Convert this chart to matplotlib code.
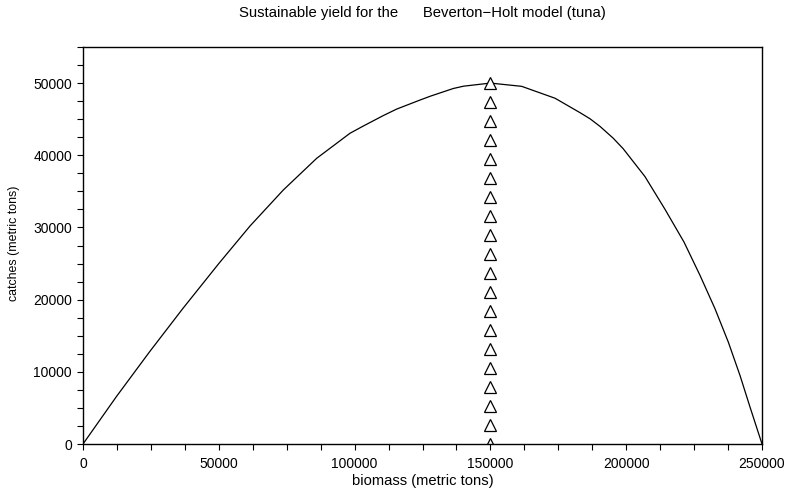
import matplotlib
matplotlib.use("Agg")
import matplotlib.pyplot as plt
from matplotlib.ticker import MultipleLocator

plt.rcParams['font.family'] = ['Liberation Sans', 'DejaVu Sans']

biomass = [0, 12260, 24540, 36820, 50000, 61490, 73750, 86040, 98310, 103200,
           110570, 115500, 124080, 128000, 136340, 140100, 150000, 161500,
           173800, 183000, 186700, 190350, 195250, 198900, 206900, 214300,
           221300, 227200, 232700, 237600, 241900, 245600, 250000]
catches = [0, 6550, 12790, 18800, 25000, 30200, 35190, 39580, 43050, 44050,
           45500, 46400, 47650, 48200, 49250, 49570, 50000, 49550,
           47900, 45900, 45050, 44000, 42350, 40900, 37050, 32500,
           27960, 23340, 18730, 14110, 9490, 5100, 0]

msy_biomass = [150000] * 20
msy_levels = [0, 2632, 5263, 7895, 10526, 13158, 15789, 18421, 21053, 23684,
              26316, 28947, 31579, 34211, 36842, 39474, 42105, 44737, 47368, 50000]

fig = plt.figure(figsize=(7.89, 4.91), dpi=100)
ax = fig.add_axes([0.1052, 0.0957, 0.8606, 0.8086])

ax.plot(biomass, catches, color='black', linewidth=0.9)
ax.plot(msy_biomass, msy_levels, linestyle='none', marker='^', markersize=9.2,
        markerfacecolor='white', markeredgecolor='black', markeredgewidth=0.9)

ax.set_xlim(0, 250000)
ax.set_ylim(0, 55000)
ax.xaxis.set_major_locator(MultipleLocator(50000))
ax.xaxis.set_minor_locator(MultipleLocator(12500))
ax.yaxis.set_major_locator(MultipleLocator(10000))
ax.yaxis.set_minor_locator(MultipleLocator(2500))
ax.tick_params(axis='both', which='major', direction='out', length=4.5, width=0.8,
               labelsize=10, color='black')
ax.tick_params(axis='x', which='major', pad=5)
ax.tick_params(axis='both', which='minor', direction='out', length=4, width=0.8,
               color='black')
for s in ax.spines.values():
    s.set_linewidth(1.0)

ax.set_xlabel('biomass (metric tons)', fontsize=10.6, va='center')
ax.xaxis.set_label_coords(0.5, -0.093)
ax.set_ylabel('catches (metric tons)', fontsize=8.9, va='center')
ax.yaxis.set_label_coords(-0.101, 0.505)
fig.text(0.5355, 0.9735, 'Sustainable yield for the      Beverton\u2212Holt model (tuna)',
         ha='center', va='center', fontsize=10.7)

fig.savefig('out.png', dpi=100)
